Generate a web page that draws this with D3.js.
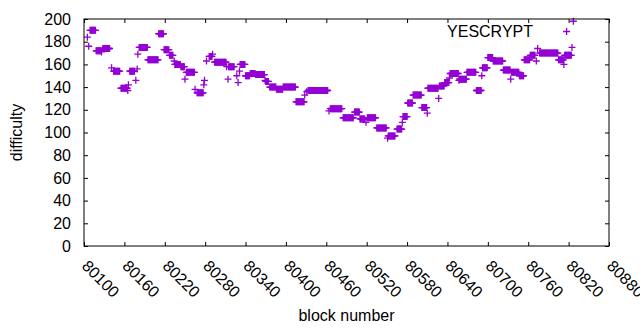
<!DOCTYPE html>
<html>
<head>
<meta charset="utf-8">
<script src="https://cdn.jsdelivr.net/npm/d3@7"></script>
<style>
  body { margin: 0; background: #fff; }
  svg { display: block; }
  text { font-family: "Liberation Sans", Arial, sans-serif; font-size: 16px; fill: #000; }
</style>
</head>
<body>
<svg width="640" height="330"></svg>
<script>
'use strict';
// runs of blocks sharing one difficulty (from == to for a lone block)
var runFrom = [80105, 80107, 80109, 80118, 80126, 80128, 80141, 80144, 80155, 80165,
  80166, 80168, 80177, 80179, 80180, 80182, 80195, 80211, 80219, 80227,
  80234, 80235, 80244, 80250, 80252, 80265, 80268, 80278, 80279, 80282,
  80286, 80291, 80294, 80312, 80314, 80315, 80327, 80329, 80331, 80332,
  80340, 80347, 80355, 80369, 80370, 80376, 80386, 80396, 80415, 80428,
  80431, 80433, 80464, 80466, 80485, 80502, 80510, 80519, 80521, 80535,
  80551, 80552, 80565, 80573, 80574, 80581, 80589, 80602, 80610, 80611,
  80627, 80628, 80636, 80643, 80644, 80657, 80658, 80669, 80683, 80691,
  80692, 80700, 80708, 80723, 80734, 80735, 80747, 80754, 80763, 80772,
  80774, 80777, 80805, 80813, 80814, 80817, 80825, 80827];
var runTo = [80105, 80107, 80117, 80125, 80126, 80138, 80141, 80153, 80164, 80165,
  80166, 80175, 80177, 80179, 80180, 80194, 80210, 80218, 80226, 80232,
  80234, 80243, 80249, 80250, 80264, 80265, 80277, 80278, 80279, 80282,
  80290, 80291, 80311, 80312, 80314, 80323, 80327, 80329, 80331, 80339,
  80346, 80354, 80368, 80369, 80374, 80385, 80395, 80414, 80427, 80428,
  80431, 80462, 80464, 80483, 80500, 80509, 80517, 80519, 80533, 80549,
  80551, 80562, 80572, 80573, 80580, 80588, 80601, 80609, 80610, 80626,
  80627, 80635, 80642, 80643, 80656, 80657, 80668, 80682, 80690, 80691,
  80699, 80707, 80722, 80733, 80734, 80746, 80753, 80762, 80770, 80772,
  80774, 80804, 80812, 80813, 80824, 80817, 80825, 80827];
var runDiff = [184, 176, 190, 172, 171, 174, 157, 154, 139, 137,
  142, 154, 146, 156, 169, 175, 164, 187, 173, 168,
  163, 160, 158, 147, 153, 138, 135, 142, 146, 163,
  167, 169, 162, 158, 147, 158, 150, 144, 154, 160,
  150, 152, 151, 146, 145, 140, 138, 140, 127, 133,
  136, 137, 119, 121, 113, 118, 112, 109, 113, 104,
  95, 97, 103, 109, 114, 126, 133, 122, 117, 139,
  130, 141, 144, 148, 152, 146, 147, 153, 137, 150,
  157, 166, 163, 155, 147, 153, 150, 164, 168, 163,
  174, 170, 164, 160, 168, 189, 175, 198];
var xTicks = d3.range(80100, 80881, 60);
var yTicks = d3.range(0, 201, 20);
var seriesTitle = 'YESCRYPT';

(() => {
  var svg = d3.select('svg');
  var margin = {left: 84, right: 31, top: 19, bottom: 84};
  var width = +svg.attr('width') - margin.left - margin.right;
  var height = +svg.attr('height') - margin.top - margin.bottom;
  var color = '#9400d3';
  var arm = 3.5;

  var x = d3.scaleLinear().domain([80100, 80880]).range([0, width]);
  var y = d3.scaleLinear().domain([0, 200]).range([height, 0]);

  var points = [];
  runFrom.forEach((f, i) => {
    d3.range(f, runTo[i] + 1).forEach(b => points.push({block: b, diff: runDiff[i]}));
  });

  var g = svg.append('g')
    .attr('transform', `translate(${margin.left}, ${margin.top})`);

  // ticks on all four sides, pointing in
  function ticks(axis, tr) {
    g.append('g')
      .attr('transform', tr)
      .call(axis)
      .call(a => a.select('.domain').remove())
      .call(a => a.selectAll('text').remove())
      .selectAll('line').attr('stroke', '#000');
  }
  ticks(d3.axisBottom(x).tickValues(xTicks).tickSize(-4), `translate(0, ${height})`);
  ticks(d3.axisTop(x).tickValues(xTicks).tickSize(-4), 'translate(0, 0)');
  ticks(d3.axisLeft(y).tickValues(yTicks).tickSize(-4), 'translate(0, 0)');
  ticks(d3.axisRight(y).tickValues(yTicks).tickSize(-4), `translate(${width}, 0)`);

  g.append('g')
    .selectAll('text').data(yTicks)
    .enter().append('text')
      .attr('x', -13)
      .attr('y', d => y(d))
      .attr('dy', '0.35em')
      .attr('text-anchor', 'end')
      .text(d => d);

  g.append('g')
    .selectAll('text').data(xTicks)
    .enter().append('text')
      .attr('transform', d => `translate(${x(d) - 3}, ${height + 21}) rotate(45)`)
      .attr('text-anchor', 'start')
      .text(d => d);

  g.append('g')
    .selectAll('path').data(points)
    .enter().append('path')
      .attr('fill', 'none')
      .attr('stroke', color)
      .attr('stroke-width', 1.3)
      .attr('d', d => {
        var px = x(d.block), py = y(d.diff);
        return `M${px - arm},${py}H${px + arm}M${px},${py - arm}V${py + arm}`;
      });

  g.append('rect')
    .attr('width', width)
    .attr('height', height)
    .attr('fill', 'none')
    .attr('stroke', '#000')
    .attr('stroke-width', 1);

  g.append('text')
    .attr('x', 449)
    .attr('y', 18)
    .attr('text-anchor', 'end')
    .text(seriesTitle);

  svg.append('text')
    .attr('x', margin.left + width / 2)
    .attr('y', 321)
    .attr('text-anchor', 'middle')
    .text('block number');

  svg.append('text')
    .attr('transform', `translate(22, ${margin.top + height / 2}) rotate(-90)`)
    .attr('text-anchor', 'middle')
    .text('difficulty');
})();
</script>
</body>
</html>
